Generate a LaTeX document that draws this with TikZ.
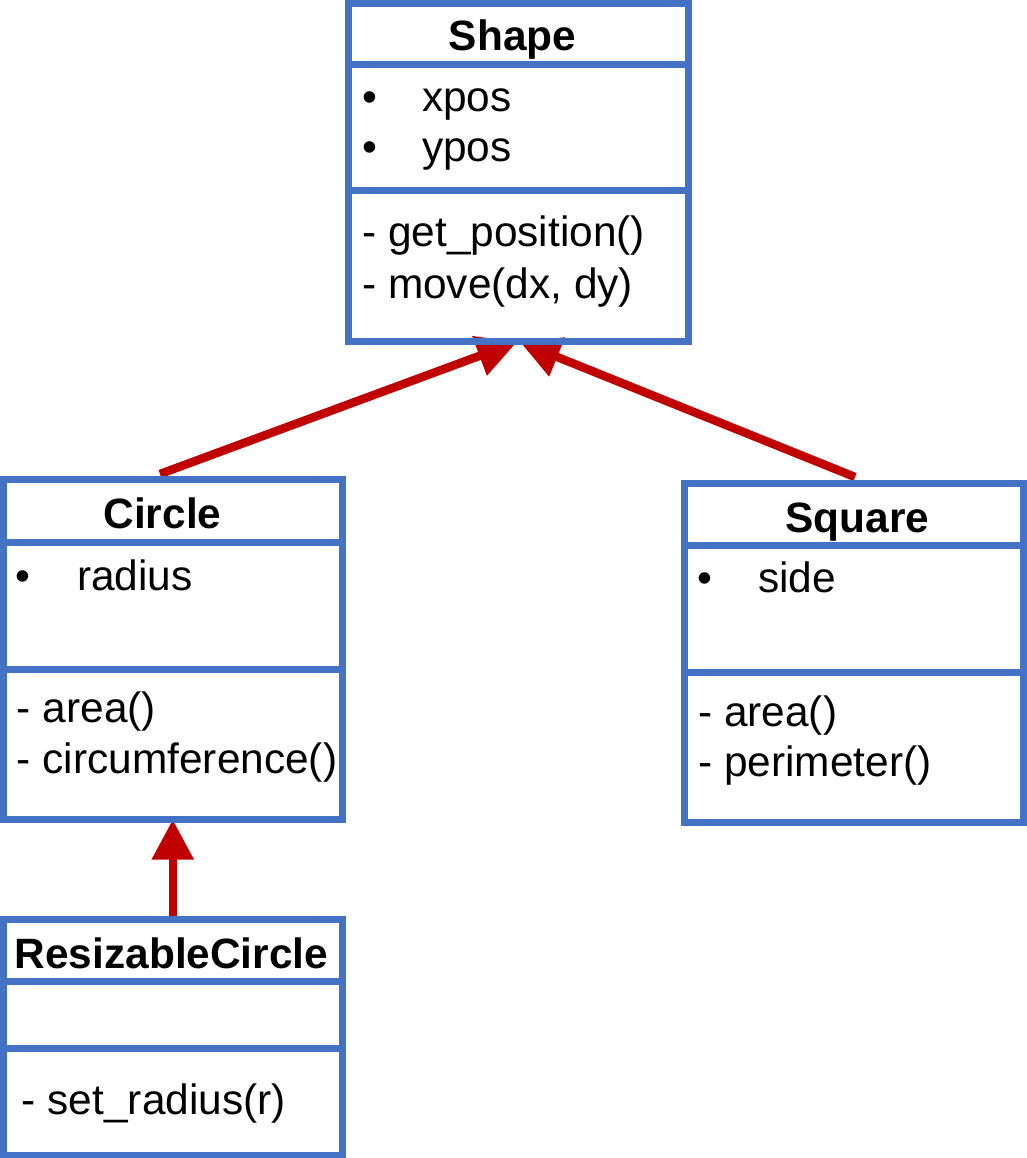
\documentclass[tikz,border=0pt]{standalone}
\usepackage{fontspec}
\setmainfont{Liberation Sans}
\usetikzlibrary{arrows.meta,calc}
\definecolor{umlblue}{HTML}{4472C4}
\definecolor{umlred}{HTML}{C00000}
\pgfdeclarelayer{back}
\pgfsetlayers{back,main}

\begin{document}
\begin{tikzpicture}[x=1pt,y=-1pt,
  classbox/.style={draw=umlblue, line width=7pt, rectangle, inner sep=0pt},
  divider/.style={draw=umlblue, line width=7pt},
  classname/.style={font=\fontsize{42.4}{51}\selectfont\bfseries, anchor=base, inner sep=0pt},
  member/.style={font=\fontsize{42.4}{51}\selectfont, anchor=base west, inner sep=0pt},
  inherit/.style={draw=umlred, line width=8.5pt, -{Triangle[length=40pt,width=40pt]}}]

\useasboundingbox (0,0) rectangle (1026,1158);

% ---- class boxes ----
\node[classbox, minimum width=339.5pt, minimum height=337.5pt] (shape)  at (518.25,172.25) {};
\node[classbox, minimum width=338.5pt, minimum height=339.5pt] (circle) at (172.75,649.25) {};
\node[classbox, minimum width=338.5pt, minimum height=236pt]   (rcircle) at (172.75,1037) {};
\node[classbox, minimum width=339pt,   minimum height=339pt]   (square) at (853.5,652.5) {};

% ---- compartment dividers ----
\draw[divider] (shape.west |- 0,64.5) -- (shape.east |- 0,64.5);
\draw[divider] (shape.west |- 0,191) -- (shape.east |- 0,191);
\draw[divider] (circle.west |- 0,542) -- (circle.east |- 0,542);
\draw[divider] (circle.west |- 0,669) -- (circle.east |- 0,669);
\draw[divider] (rcircle.west |- 0,981) -- (rcircle.east |- 0,981);
\draw[divider] (rcircle.west |- 0,1048) -- (rcircle.east |- 0,1048);
\draw[divider] (square.west |- 0,545.5) -- (square.east |- 0,545.5);
\draw[divider] (square.west |- 0,672) -- (square.east |- 0,672);

% ---- Shape ----
\node[classname] (shapename) at (512.5,51) {Shape};
\node[member] (shapeb1) at (362,112) {•};
\node[member] (shapea1) at (422,112) {xpos};
\node[member] (shapeb2) at (362,162) {•};
\node[member] (shapea2) at (422,162) {ypos};
\node[member] (shapem1) at (362,247) {- get\_position()};
\node[member] (shapem2) at (362,298) {- move(dx, dy)};

% ---- Circle ----
\node[classname] (circlename) at (162.5,528.5) {Circle};
\node[member] (circleb1) at (15.5,590) {•};
\node[member] (circlea1) at (77,590) {radius};
\node[member] (circlem1) at (16.7,722) {- area()};
\node[member] (circlem2) at (16.7,773.5) {- circumference()};

% ---- ResizableCircle ----
\node[classname] (rcirclename) at (171.5,968.5) {ResizableCircle};
\node[member] (rcirclem1) at (21.7,1114) {- set\_radius(r)};

% ---- Square ----
\node[classname] (squarename) at (857.5,532) {Square};
\node[member] (squareb1) at (697.6,592) {•};
\node[member] (squarea1) at (758,592) {side};
\node[member] (squarem1) at (698,726) {- area()};
\node[member] (squarem2) at (698,776) {- perimeter()};

% ---- inheritance arrows (behind the box outlines) ----
\begin{pgfonlayer}{back}
\draw[inherit] ($(circle.north)+(-12.75,-2)$) -- ($(shape.south)+(-1.25,-2.5)$);
\draw[inherit] ($(square.north)+(1.5,-2.5)$) -- ($(shape.south)+(1.75,-2.5)$);
\draw[inherit] (rcircle.north) -- ($(circle.south)+(0,-3)$);
\end{pgfonlayer}
\end{tikzpicture}
\end{document}
